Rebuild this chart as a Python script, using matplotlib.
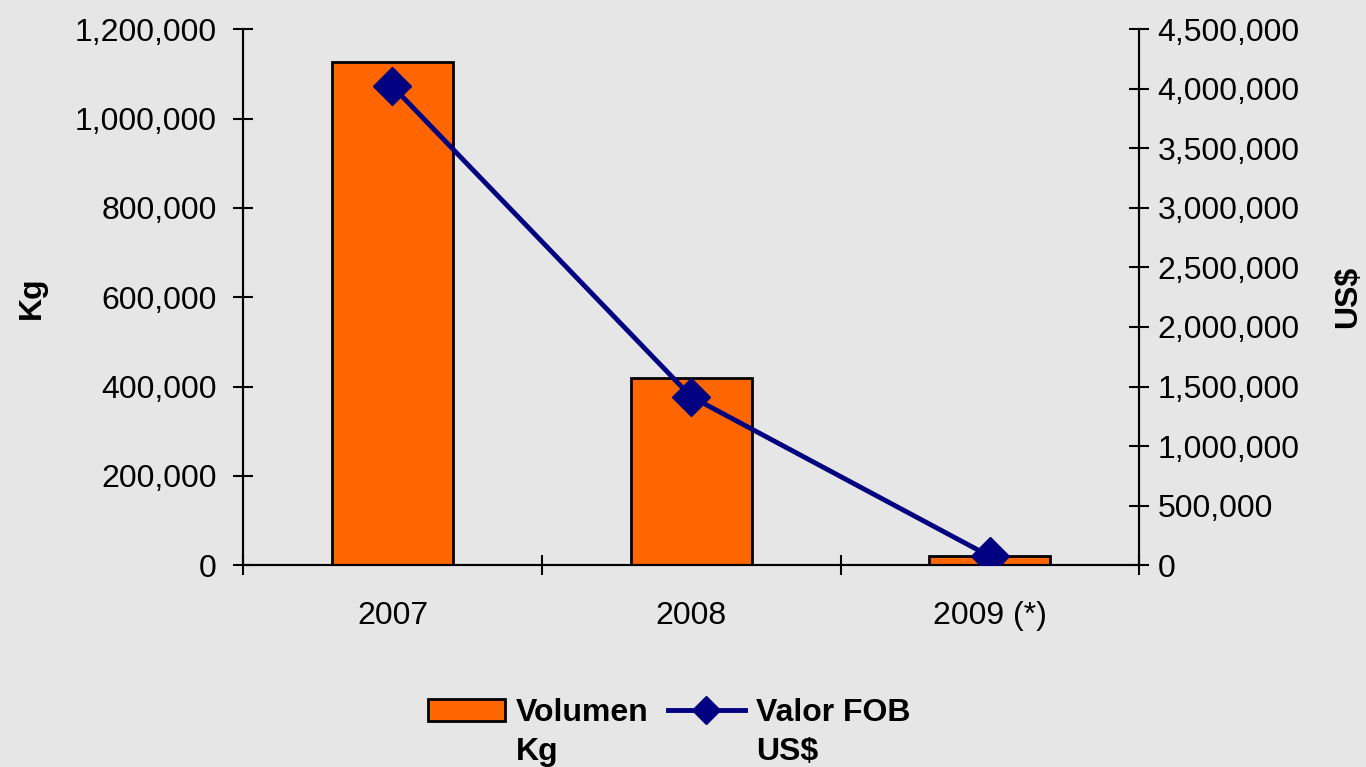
import numpy as np
import matplotlib.pyplot as plt
from matplotlib.ticker import FuncFormatter
from matplotlib.lines import Line2D

years = ['2007', '2008', '2009 (*)']
volumen_kg = [1127000, 419000, 20000]
valor_fob = [4020000, 1415000, 75000]

plt.rcParams['font.family'] = ['Liberation Sans', 'DejaVu Sans']
bg = '#e6e6e6'
navy = '#000080'

fig = plt.figure(figsize=(13.66, 7.67), dpi=100, facecolor=bg)
ax = fig.add_axes([0.178, 0.263, 0.656, 0.699])
ax.set_facecolor(bg)
ax2 = ax.twinx()

x = np.arange(len(years))
bars = ax.bar(x, volumen_kg, 0.405, color='#ff6600', edgecolor='black',
              linewidth=2, zorder=2)
line, = ax2.plot(x, valor_fob, color=navy, linewidth=3.5, marker='D',
                 markersize=19, zorder=3)

fmt = FuncFormatter(lambda v, p: f'{int(v):,}')
ax.set_xlim(-0.5, 2.5)
ax.set_ylim(0, 1200000)
ax.set_yticks(np.arange(0, 1200001, 200000))
ax.yaxis.set_major_formatter(fmt)
ax2.set_ylim(0, 4500000)
ax2.set_yticks(np.arange(0, 4500001, 500000))
ax2.yaxis.set_major_formatter(fmt)

ax.set_xticks(x)
ax.set_xticklabels(years)
ax.set_xticks([-0.5, 0.5, 1.5, 2.5], minor=True)
ax.tick_params(axis='x', which='major', length=0, labelsize=23, pad=26)
ax.tick_params(axis='x', which='minor', direction='inout', length=14, width=1.5)
ax.tick_params(axis='y', direction='inout', length=14, width=1.5, labelsize=23, pad=12)
ax2.tick_params(axis='y', direction='inout', length=14, width=1.5, labelsize=23, pad=6)

for a in (ax, ax2):
    a.spines['top'].set_visible(False)
    for s in ('left', 'right', 'bottom'):
        a.spines[s].set_linewidth(1.5)

ax.set_ylabel('Kg', fontsize=23, fontweight='bold', labelpad=20)
ax2.set_ylabel('US$', fontsize=23, fontweight='bold', rotation=90, labelpad=24)

# legend: first line next to the handles, second line underneath
line_handle = Line2D([], [], color=navy, linewidth=3.5, marker='D', markersize=14)
leg = fig.legend([bars, line_handle], ['Volumen', 'Valor FOB'], loc='lower center',
                 bbox_to_anchor=(0.49, 0.013), ncol=2, frameon=False,
                 prop={'size': 23, 'weight': 'bold'}, handlelength=2.4,
                 handleheight=0.65, columnspacing=0.6, handletextpad=0.35)

fig.canvas.draw()
inv = fig.transFigure.inverted()
for t, second in zip(leg.get_texts(), ['Kg', 'US$']):
    bb = t.get_window_extent()
    x0, y0 = inv.transform((bb.x0, bb.y0))
    fig.text(x0, y0 - 0.012, second, fontsize=23, fontweight='bold', va='top', ha='left')

fig.savefig('out.png', dpi=100, facecolor=bg)
